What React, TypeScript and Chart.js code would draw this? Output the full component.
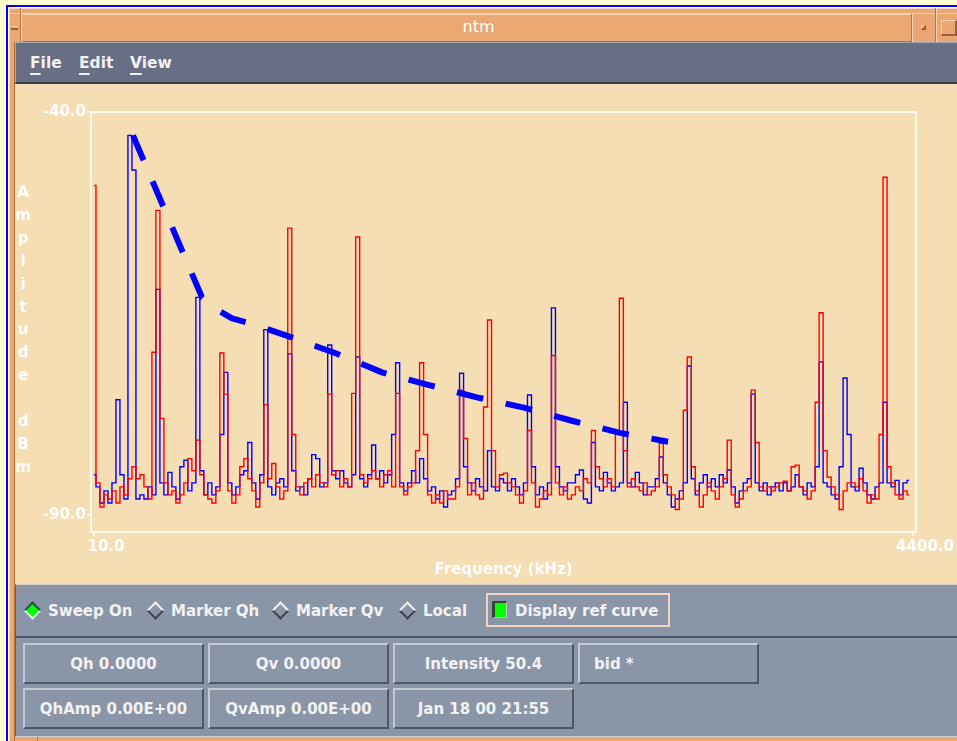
import React, { useEffect, useRef } from "react";
import { Chart, registerables } from "chart.js";

Chart.register(...registerables);

// ---------- data ----------
const F_START = 10;
const F_STEP = 21.415; // kHz per spectrum bin (205 bins over 10..4400 kHz)

const redAmp: number[] = [
  -49.1, -86, -89, -87.5, -88, -87, -88.5, -86.5, -87.5, -85.5,
  -84, -85.5, -85, -86.5, -88, -69.8, -52.2, -78, -86, -87.5,
  -87, -88.5, -87.5, -86, -83, -84.5, -80.7, -85, -87.5, -88,
  -88.5, -87, -69.9, -75, -87, -88.5, -87.5, -84, -83, -85.5,
  -87, -89, -86, -76.3, -85.5, -83.6, -86.5, -88, -87, -54.4,
  -80, -86.5, -87.5, -86, -85.5, -86.5, -85, -86, -86.5, -75,
  -85, -84.5, -86.5, -85.5, -86.5, -74.9, -55.5, -85, -86, -85.5,
  -84.5, -85.5, -86.5, -85, -84.5, -86.5, -74.9, -86.5, -87.5, -86.5,
  -86, -82, -71.1, -80, -87.5, -88.5, -87.5, -88.5, -87, -88,
  -88, -86.5, -74.5, -80.5, -87.5, -86, -87.5, -88, -76.6, -65.8,
  -82, -86.5, -85, -84.8, -86, -86.5, -87.5, -88.5, -87, -79.5,
  -86, -89, -88, -87, -87.5, -70.2, -86, -87.5, -86.5, -88,
  -87.5, -86.5, -87, -85.5, -86, -79.5, -84, -85.5, -86.5, -85.5,
  -86.5, -79.8, -63.1, -82, -86.5, -85.5, -86.5, -87, -86, -87.5,
  -87, -86.5, -81.1, -85, -86.5, -87.5, -89.3, -88, -77, -70.4,
  -84, -87, -89, -87.5, -86, -87, -88, -86.5, -85.5, -80.7,
  -87.5, -89, -88, -87, -86.5, -74.5, -81, -86.5, -87, -86.5,
  -87, -86.5, -86, -85.8, -87, -84, -83.8, -86.5, -87, -88,
  -87, -76, -64.9, -82, -85.3, -86.5, -87.5, -89.3, -87, -86,
  -86, -86.5, -85.5, -87, -88.5, -87.5, -88, -80, -48.1, -84,
  -86, -87.5, -88, -87, -87.5,
];

const blueAmp: number[] = [
  -85, -86.5, -88.5, -87, -88.5, -86, -75.7, -85, -88, -42.9,
  -47.2, -88, -87.5, -88, -86.5, -87.5, -62, -86, -87.5, -84.7,
  -86.5, -88, -84, -83.2, -87, -86, -63, -84.5, -87.5, -86,
  -87.5, -86.5, -80, -72.3, -86, -87.5, -86.5, -85, -84.5, -81,
  -86, -88, -85, -67, -86.5, -87.5, -86, -85.5, -86.5, -70,
  -84.5, -87, -86.5, -87.5, -85.5, -82.5, -83, -86.5, -86, -68.9,
  -84.5, -85.5, -84.5, -86, -86.5, -85, -70.4, -85.5, -86.5, -85,
  -81.3, -85.5, -84.5, -86, -85, -80, -71.1, -86, -87, -86,
  -84.5, -86, -83, -85.5, -87, -86.5, -88, -87, -89, -87.5,
  -87, -85.5, -72.4, -84, -86, -87, -85.5, -86.5, -87, -82,
  -86.5, -87, -85.5, -86, -87, -85.5, -86.5, -87.5, -86, -75.1,
  -84, -87.5, -86.5, -88, -86, -64.3, -84, -86.5, -87, -86,
  -86, -85, -84.4, -88, -88.5, -81, -86.5, -87, -84.7, -86,
  -87, -86.5, -86, -76, -86, -86.5, -84.7, -86, -87.5, -86.5,
  -86.5, -85.5, -82.8, -86, -87.5, -89, -88, -87, -86, -71.5,
  -85.5, -87.5, -86, -85, -86.5, -85.5, -86.5, -85, -86, -84.4,
  -86.5, -88.5, -87, -86, -85.5, -75, -86, -87, -86, -87.5,
  -86.5, -86, -87, -86, -87, -86.5, -85, -86.5, -87.5, -86,
  -86.5, -84, -71, -86, -86.5, -87.5, -88, -84, -73, -80,
  -86.5, -87, -84.2, -86, -87.5, -88, -86.5, -86, -76, -86,
  -86.5, -85.7, -87.5, -86, -85.7,
];

const refFreq: number[] = [219, 589, 659, 750, 846, 1050, 1302, 1554, 1811, 2063, 2320, 2572, 2829, 3087];
const refAmp: number[] = [-42.9, -63.0, -64.4, -65.6, -66.2, -67.8, -69.9, -72.3, -73.9, -75.4, -76.7, -78.3, -79.8, -80.9];

const xTickValues: number[] = [10, 4400];
const yTickValues: number[] = [-90, -40];
const yTitleLetters: string[] = ["A", "m", "p", "l", "i", "t", "u", "d", "e", "\u00a0", "d", "B", "m"];

const radios = [
  { label: "Sweep On", cx: 32.5, tx: 48, on: true },
  { label: "Marker Qh", cx: 155.5, tx: 171, on: false },
  { label: "Marker Qv", cx: 280, tx: 296, on: false },
  { label: "Local", cx: 407.5, tx: 423, on: false },
];

const cells = [
  { text: "Qh 0.0000", x: 23, y: 643, align: "center" },
  { text: "Qv 0.0000", x: 208, y: 643, align: "center" },
  { text: "Intensity 50.4", x: 393, y: 643, align: "center" },
  { text: "bid *", x: 578, y: 643, align: "left" },
  { text: "QhAmp 0.00E+00", x: 23, y: 688, align: "center" },
  { text: "QvAmp 0.00E+00", x: 208, y: 688, align: "center" },
  { text: "Jan 18 00 21:55", x: 393, y: 688, align: "center" },
];

// ---------- helpers ----------
const FONT = '"DejaVu Sans", "Liberation Sans", sans-serif';
const TXT = "#F2F2F2";
const abs = (s: React.CSSProperties): React.CSSProperties => ({ position: "absolute", boxSizing: "border-box", ...s });

const boxPlugin = {
  id: "plotBox",
  beforeDatasetsDraw(chart: any) {
    const { ctx, chartArea } = chart;
    ctx.save();
    ctx.strokeStyle = "#FFF9F0";
    ctx.lineWidth = 2;
    ctx.strokeRect(chartArea.left, chartArea.top, chartArea.right - chartArea.left, chartArea.bottom - chartArea.top);
    ctx.restore();
  },
};

function SpectrumChart() {
  const ref = useRef<HTMLCanvasElement>(null);
  useEffect(() => {
    if (!ref.current) return;
    const redData = redAmp.map((v, i) => ({ x: F_START + i * F_STEP, y: v }));
    const blueData = blueAmp.map((v, i) => ({ x: F_START + i * F_STEP, y: v }));
    const refData = refAmp.map((v, i) => ({ x: refFreq[i], y: v }));
    const tickFont = { family: "DejaVu Sans", size: 15, weight: "bold" };
    const chart = new Chart(ref.current, {
      type: "line",
      data: {
        datasets: [
          {
            data: refData,
            borderColor: "#0000FF",
            borderWidth: 6,
            borderDash: [27, 23],
            borderCapStyle: "butt",
            borderJoinStyle: "round",
            pointRadius: 0,
            fill: false,
            tension: 0,
          },
          {
            data: redData,
            borderColor: "#FF0000",
            borderWidth: 1.4,
            pointRadius: 0,
            stepped: "middle",
            fill: false,
          },
          {
            data: blueData,
            borderColor: "#0000FF",
            borderWidth: 1.4,
            pointRadius: 0,
            stepped: "middle",
            fill: false,
          },
        ],
      } as any,
      options: {
        responsive: false,
        maintainAspectRatio: false,
        animation: false,
        devicePixelRatio: 1,
        events: [],
        layout: { padding: { left: 0, top: 27, right: 41, bottom: 0 } },
        plugins: { legend: { display: false }, tooltip: { enabled: false } },
        scales: {
          x: {
            type: "linear",
            min: -6,
            max: 4416,
            afterBuildTicks: (s: any) => {
              s.ticks = xTickValues.map((v) => ({ value: v }));
            },
            afterFit: (s: any) => {
              s.height = 52;
            },
            border: { display: false },
            grid: { drawOnChartArea: false, drawTicks: true, tickLength: 4, color: "#FFFFFF", lineWidth: 1.5 },
            ticks: {
              color: "#FFFFFF",
              font: tickFont,
              padding: 2,
              labelOffset: 12,
              maxRotation: 0,
              autoSkip: false,
              callback: (v: any) => Number(v).toFixed(1),
            },
            title: {
              display: true,
              text: "Frequency (kHz)",
              color: "#FFFFFF",
              font: tickFont,
              padding: { top: 0, bottom: 5 },
            },
          },
          y: {
            type: "linear",
            min: -92.1,
            max: -40,
            afterBuildTicks: (s: any) => {
              s.ticks = yTickValues.map((v) => ({ value: v }));
            },
            afterFit: (s: any) => {
              s.width = 76;
            },
            border: { display: false },
            grid: { drawOnChartArea: false, drawTicks: true, tickLength: 4, color: "#FFFFFF", lineWidth: 1.5 },
            ticks: {
              color: "#FFFFFF",
              font: tickFont,
              padding: 1,
              autoSkip: false,
              callback: (v: any) => Number(v).toFixed(1),
            },
          },
        },
      } as any,
      plugins: [boxPlugin],
    });
    return () => chart.destroy();
  }, []);
  return <canvas ref={ref} width={942} height={499} style={abs({ left: 15, top: 85, width: 942, height: 499 })} />;
}

function Diamond({ cx, on }: { cx: number; on: boolean }) {
  const light = "#EEF0F4";
  const dark = "#3C4454";
  const up = on ? dark : light;
  const low = on ? light : dark;
  return (
    <div
      style={abs({
        left: cx - 6.5,
        top: 603.5,
        width: 13,
        height: 13,
        background: on ? "#00FF00" : "#8A95A8",
        borderTop: `2px solid ${up}`,
        borderLeft: `2px solid ${up}`,
        borderRight: `2px solid ${low}`,
        borderBottom: `2px solid ${low}`,
        transform: "rotate(45deg)",
      })}
    />
  );
}

export default function App() {
  const orange = "#EAA773";
  const slate = "#8A95A8";
  const uiText: React.CSSProperties = { fontSize: 15, fontWeight: "bold", color: TXT, whiteSpace: "nowrap", lineHeight: "20px" };
  return (
    <div
      style={{
        position: "fixed",
        left: 0,
        top: 0,
        width: 957,
        height: 741,
        overflow: "hidden",
        background: "#FFFFD2",
        fontFamily: FONT,
      }}
    >
      {/* blue outer line */}
      <div style={abs({ left: 6, top: 5, width: 1000, height: 800, borderLeft: "2px solid #0000FF", borderTop: "2px solid #0000FF" })} />
      {/* orange window frame */}
      <div style={abs({ left: 9, top: 8, width: 1000, height: 800, background: orange, borderLeft: "1px solid #F8D6B4", borderTop: "1px solid #F8D6B4" })} />
      <div style={abs({ left: 9, top: 13, width: 1000, height: 1, background: "#F6D0AA" })} />
      <div style={abs({ left: 14, top: 42, width: 1, height: 700, background: "#A8703E" })} />
      <div style={abs({ left: 21, top: 8, width: 1, height: 34, background: "#F6D0AA" })} />
      <div style={abs({ left: 20, top: 8, width: 1, height: 34, background: "#B07A4A" })} />
      <div style={abs({ left: 37, top: 737, width: 1, height: 6, background: "#B07A4A" })} />
      {/* title bar */}
      <div style={abs({ left: 22, top: 14, width: 889, height: 28, background: "#EBA872", borderTop: "1px solid #F8D4B0", borderBottom: "1px solid #B07848" })} />
      <div style={abs({ left: 0, top: 17, width: 957, height: 20, lineHeight: "20px", textAlign: "center", color: "#FFFFFF", fontSize: 16 })}>ntm</div>
      {/* left window button */}
      <div style={abs({ left: 11, top: 26, width: 7, height: 4, borderTop: "1px solid #F8D4B0", borderBottom: "2px solid #9A6232" })} />
      {/* right window buttons */}
      <div style={abs({ left: 911, top: 14, width: 1, height: 28, background: "#B07848" })} />
      <div style={abs({ left: 912, top: 14, width: 1, height: 28, background: "#F8D4B0" })} />
      <div style={abs({ left: 921, top: 25, width: 5, height: 5, borderTop: "1px solid #F8D4B0", borderLeft: "1px solid #F8D4B0", borderRight: "2px solid #9A6232", borderBottom: "2px solid #9A6232" })} />
      <div style={abs({ left: 935, top: 8, width: 1, height: 34, background: "#B07848" })} />
      <div style={abs({ left: 936, top: 8, width: 1, height: 34, background: "#F8D4B0" })} />
      <div style={abs({ left: 941, top: 20, width: 16, height: 16, borderTop: "1px solid #F8D4B0", borderLeft: "1px solid #F8D4B0", borderRight: "2px solid #9A6232", borderBottom: "2px solid #9A6232" })} />

      {/* menu bar */}
      <div style={abs({ left: 15, top: 42, width: 942, height: 42, background: "#686E84", borderTop: "1px solid #A0A6B6", borderLeft: "1px solid #A0A6B6", borderBottom: "2px solid #3A3F4C" })} />
      {[
        { t: "File", x: 30 },
        { t: "Edit", x: 79 },
        { t: "View", x: 130 },
      ].map((m) => (
        <div key={m.t} style={abs({ ...uiText, left: m.x, top: 53, height: 24, fontSize: 15.5 })}>
          <span style={{ textDecoration: "underline", textUnderlineOffset: "5px", textDecorationThickness: "2px" }}>{m.t[0]}</span>
          {m.t.slice(1)}
        </div>
      ))}

      {/* chart panel */}
      <div style={abs({ left: 15, top: 84, width: 942, height: 500, background: "#F5DEB3" })} />
      <SpectrumChart />
      <div style={abs({ left: 13, top: 181, width: 20, lineHeight: "22.9px", fontSize: 15, fontWeight: "bold", color: "#FFFFFF", textAlign: "center" })}>
        {yTitleLetters.map((l, i) => (
          <div key={i}>{l}</div>
        ))}
      </div>

      {/* control bar */}
      <div style={abs({ left: 15, top: 584, width: 942, height: 53, background: slate, borderTop: "1px solid #D8CFC0", borderLeft: "1px solid #5A6274" })} />
      <div style={abs({ left: 15, top: 636, width: 942, height: 2, background: "#4C5466" })} />
      {radios.map((r) => (
        <React.Fragment key={r.label}>
          <Diamond cx={r.cx} on={r.on} />
          <div style={abs({ ...uiText, left: r.tx, top: 600.5, height: 20 })}>{r.label}</div>
        </React.Fragment>
      ))}
      <div style={abs({ left: 486, top: 593, width: 184, height: 34, border: "2px solid #F4D6C0" })} />
      <div style={abs({ left: 492, top: 601, width: 15, height: 17, background: "#00FF00", borderLeft: "3px solid #3A4234", borderTop: "2px solid #3A4234", borderRight: "1px solid #C0C6CE", borderBottom: "1px solid #C0C6CE" })} />
      <div style={abs({ ...uiText, left: 515, top: 600.5, height: 20 })}>Display ref curve</div>

      {/* status area */}
      <div style={abs({ left: 15, top: 638, width: 942, height: 99, background: slate, borderLeft: "1px solid #5A6274", borderBottom: "1px solid #C7CCD4" })} />
      {cells.map((c) => (
        <div
          key={c.text}
          style={abs({
            ...uiText,
            left: c.x,
            top: c.y,
            width: 181,
            height: 41,
            borderTop: "2px solid #C4CAD4",
            borderLeft: "2px solid #C4CAD4",
            borderRight: "2px solid #4E5667",
            borderBottom: "2px solid #4E5667",
            paddingTop: 8.5,
            paddingLeft: c.align === "left" ? 14 : 0,
            textAlign: c.align as any,
          })}
        >
          {c.text}
        </div>
      ))}
    </div>
  );
}
